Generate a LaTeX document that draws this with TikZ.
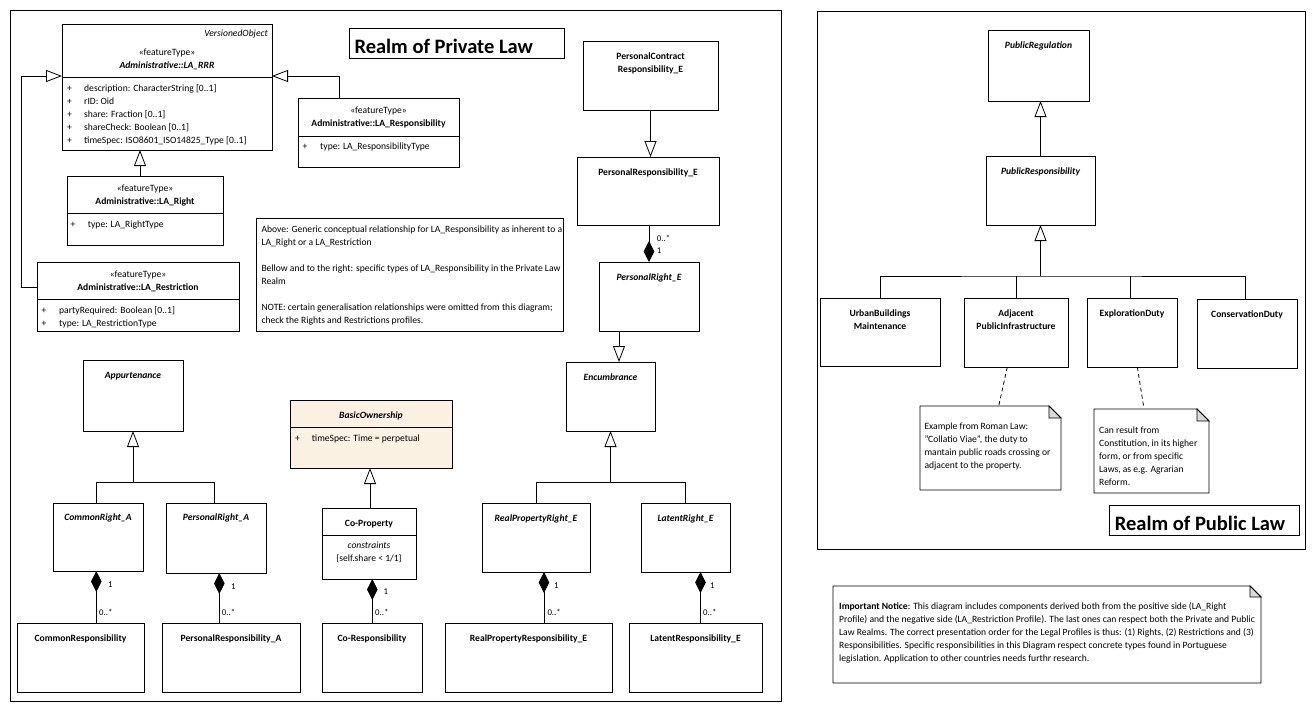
\documentclass[tikz,border=0pt]{standalone}
\usepackage{fontspec}
\setmainfont{Carlito}
\usetikzlibrary{arrows.meta}
\definecolor{ownfill}{RGB}{251,241,227}
\definecolor{foldgray}{RGB}{218,218,218}
\newcommand\foldnote[2]{%
  \draw[line width=0.8pt, fill=white] (#1.north west) -- ([xshift=-#2]#1.north east) -- ([yshift=-#2]#1.north east) -- (#1.south east) -- (#1.south west) -- cycle;
  \draw[line width=0.8pt, fill=foldgray] ([xshift=-#2]#1.north east) -- ([xshift=-#2,yshift=-#2]#1.north east) -- ([yshift=-#2]#1.north east) -- cycle;}
\begin{document}
\begin{tikzpicture}[x=1pt,y=-1pt,
  box/.style={draw=black, line width=0.8pt, inner sep=0pt, outer sep=0pt, anchor=north west, fill=white},
  frame/.style={draw=black, line width=0.8pt, inner sep=0pt, outer sep=0pt, anchor=north west},
  ghost/.style={inner sep=0pt, outer sep=0pt, anchor=north west},
  sep/.style={line width=0.8pt},
  t/.style={inner sep=0pt, anchor=base, font=\fontsize{9.6}{13}\selectfont},
  tl/.style={t, anchor=base west, align=left},
  tr/.style={t, anchor=base east},
  nm/.style={t, align=center, font=\fontsize{9.6}{13}\selectfont\bfseries},
  nmi/.style={t, align=center, font=\fontsize{9.6}{13}\selectfont\bfseries\itshape},
  st/.style={t, align=center},
  title/.style={inner sep=0pt, anchor=base west, font=\fontsize{20.5}{24}\selectfont\bfseries},
  gen/.style={line width=0.8pt, -{Triangle[open, length=16pt, width=12pt]}},
  comp/.style={line width=0.8pt, {Diamond[length=21pt, width=10.6pt]}-},
  mult/.style={inner sep=0pt, anchor=base west, font=\fontsize{8.8}{10}\selectfont},
  dep/.style={line width=0.8pt, dash pattern=on 4pt off 3pt}
]
\fill[white] (0,0) rectangle (1316,712);
\useasboundingbox (0,0) rectangle (1316,712);

% frames
\node[frame, minimum width=771pt, minimum height=691pt] (privframe) at (10,10) {};
\node[frame, minimum width=488pt, minimum height=538pt] (pubframe) at (817,11) {};

% titles
\node[box, minimum width=215pt, minimum height=30pt] (title1box) at (349,28) {};
\node[title] (title1) at (354.3,53.3) {Realm of Private Law};
\node[box, minimum width=190pt, minimum height=30pt] (title2box) at (1109,505) {};
\node[title] (title2) at (1114.7,530) {Realm of Public Law};

% LA_RRR
\node[box, minimum width=210pt, minimum height=126pt] (rrr) at (62,24) {};
\draw[sep] ([yshift=-53pt]rrr.north west) -- ([yshift=-53pt]rrr.north east);
\node[tr, font=\fontsize{9.6}{13}\selectfont\itshape] (rrrV) at (268,36.5) {VersionedObject};
\node[st] (rrrS) at ([yshift=-31.7pt]rrr.north) {«featureType»};
\node[nmi] (rrrN) at ([yshift=-44.7pt]rrr.north) {Administrative::LA\_RRR};
\node[tl] (rrrP) at (66.8,143) {+\\+\\+\\+\\+};
\node[tl] (rrrA) at (84,143) {description: CharacterString [0..1]\\rID: Oid\\share: Fraction [0..1]\\shareCheck: Boolean [0..1]\\timeSpec: ISO8601\_ISO14825\_Type [0..1]};

% LA_Responsibility
\node[box, minimum width=161pt, minimum height=69pt] (resp) at (298,98) {};
\draw[sep] ([yshift=-38pt]resp.north west) -- ([yshift=-38pt]resp.north east);
\node[st] (respS) at ([yshift=-15.4pt]resp.north) {«featureType»};
\node[nm] (respN) at ([yshift=-28.4pt]resp.north) {Administrative::LA\_Responsibility};
\node[tl] (respP) at (302.5,149) {+};
\node[tl] (respA) at (320,149) {type: LA\_ResponsibilityType};

% LA_Right
\node[box, minimum width=156pt, minimum height=69pt] (right) at (67,176) {};
\draw[sep] ([yshift=-37pt]right.north west) -- ([yshift=-37pt]right.north east);
\node[st] (rightS) at ([yshift=-15.4pt]right.north) {«featureType»};
\node[nm] (rightN) at ([yshift=-28.4pt]right.north) {Administrative::LA\_Right};
\node[tl] (rightP) at (70.5,227) {+};
\node[tl] (rightA) at (87.7,227) {type: LA\_RightType};

% LA_Restriction
\node[box, minimum width=202pt, minimum height=69pt] (restr) at (37,262) {};
\draw[sep] ([yshift=-37pt]restr.north west) -- ([yshift=-37pt]restr.north east);
\node[st] (restrS) at ([yshift=-15.4pt]restr.north) {«featureType»};
\node[nm] (restrN) at ([yshift=-28.4pt]restr.north) {Administrative::LA\_Restriction};
\node[tl] (restrP) at (41.5,326) {+\\+};
\node[tl] (restrA) at (59,326) {partyRequired: Boolean [0..1]\\type: LA\_RestrictionType};

% note (Above ...)
\node[box, minimum width=307pt, minimum height=113pt] (noteA) at (256,218) {};
\node[tl] (noteAT) at (261.3,323.7) {Above: Generic conceptual relationship for LA\_Responsibility as inherent to a\\LA\_Right or a LA\_Restriction\\[13pt]Bellow and to the right: specific types of LA\_Responsibility in the Private Law\\Realm\\[13pt]NOTE: certain generalisation relationships were omitted from this diagram;\\check the Rights and Restrictions profiles.};

% Encumbrance branch
\node[box, minimum width=135pt, minimum height=69pt] (pcr) at (583,41) {};
\node[nm] (pcrN) at ([yshift=-31.4pt]pcr.north) {PersonalContract\\Responsibility\_E};
\node[box, minimum width=142pt, minimum height=68pt] (pre) at (577,157) {};
\node[nm] (preN) at ([yshift=-18.7pt]pre.north) {PersonalResponsibility\_E};
\node[box, minimum width=100pt, minimum height=69pt] (prE) at (599,262) {};
\node[nmi] (prEN) at ([yshift=-18.7pt]prE.north) {PersonalRight\_E};
\node[box, minimum width=89pt, minimum height=69pt] (enc) at (566,362) {};
\node[nmi] (encN) at ([yshift=-18.7pt]enc.north) {Encumbrance};
\node[box, minimum width=108pt, minimum height=69pt] (rpr) at (482,503) {};
\node[nmi] (rprN) at ([yshift=-18.3pt]rpr.north) {RealPropertyRight\_E};
\node[box, minimum width=89pt, minimum height=69pt] (lat) at (641,503) {};
\node[nmi] (latN) at ([yshift=-18.3pt]lat.north) {LatentRight\_E};
\node[box, minimum width=167pt, minimum height=69pt] (rpresp) at (445,623) {};
\node[nm] (rprespN) at ([yshift=-18.7pt]rpresp.north) {RealPropertyResponsibility\_E};
\node[box, minimum width=133pt, minimum height=69pt] (latresp) at (629,623) {};
\node[nm] (latrespN) at ([yshift=-18.7pt]latresp.north) {LatentResponsibility\_E};

% Appurtenance branch
\node[box, minimum width=100pt, minimum height=71pt] (app) at (83,360) {};
\node[nmi] (appN) at ([yshift=-18.7pt]app.north) {Appurtenance};
\node[box, minimum width=90pt, minimum height=68pt] (cra) at (53,503) {};
\node[nmi] (craN) at ([yshift=-17.7pt]cra.north) {CommonRight\_A};
\node[box, minimum width=100pt, minimum height=70pt] (pra) at (166,503) {};
\node[nmi] (praN) at ([yshift=-17.7pt]pra.north) {PersonalRight\_A};
\node[box, minimum width=127pt, minimum height=69pt] (crsp) at (17,623) {};
\node[nm] (crspN) at ([yshift=-18.7pt]crsp.north) {CommonResponsibility};
\node[box, minimum width=138pt, minimum height=69pt] (prspa) at (162,623) {};
\node[nm] (prspaN) at ([yshift=-18.7pt]prspa.north) {PersonalResponsibility\_A};

% BasicOwnership branch
\node[box, fill=ownfill, minimum width=162pt, minimum height=68pt] (bo) at (290,400) {};
\draw[sep] ([yshift=-27pt]bo.north west) -- ([yshift=-27pt]bo.north east);
\node[nmi] (boN) at ([yshift=-18.7pt]bo.north) {BasicOwnership};
\node[tl] (boP) at (295,441) {+};
\node[tl] (boA) at (311.7,441) {timeSpec: Time = perpetual};
\node[box, minimum width=94pt, minimum height=71pt] (cop) at (322,508) {};
\draw[sep] ([yshift=-27pt]cop.north west) -- ([yshift=-27pt]cop.north east);
\node[nm] (copN) at ([yshift=-18.7pt]cop.north) {Co-Property};
\node[st, font=\fontsize{9.6}{13}\selectfont\itshape] (copC) at ([yshift=-40.7pt]cop.north) {constraints};
\node[st] (copK) at ([yshift=-53.7pt]cop.north) {\{self.share < 1/1\}};
\node[box, minimum width=100pt, minimum height=69pt] (cores) at (322,623) {};
\node[nm] (coresN) at ([yshift=-18.7pt]cores.north) {Co-Responsibility};

% Public law
\node[box, minimum width=101pt, minimum height=71pt] (preg) at (988,30) {};
\node[nmi] (pregN) at ([yshift=-18.4pt]preg.north) {PublicRegulation};
\node[box, minimum width=109pt, minimum height=69pt] (presp) at (986,156) {};
\node[nmi] (prespN) at ([yshift=-18.4pt]presp.north) {PublicResponsibility};
\node[box, minimum width=120pt, minimum height=68pt] (ubm) at (820,298) {};
\node[nm] (ubmN) at ([yshift=-31.4pt]ubm.north) {UrbanBuildings\\Maintenance};
\node[box, minimum width=104pt, minimum height=69pt] (api) at (964,298) {};
\node[nm] (apiN) at ([yshift=-31.4pt]api.north) {Adjacent\\PublicInfrastructure};
\node[box, minimum width=90pt, minimum height=69pt] (exp) at (1087,298) {};
\node[nm] (expN) at ([yshift=-18.4pt]exp.north) {ExplorationDuty};
\node[box, minimum width=100pt, minimum height=69pt] (cons) at (1197,299) {};
\node[nm] (consN) at ([yshift=-18.7pt]cons.north) {ConservationDuty};

% notes with folded corner
\node[ghost, minimum width=141pt, minimum height=84pt] (noteR) at (920,406) {};
\foldnote{noteR}{12pt}
\node[tl] (noteRT) at (924.3,468.7) {Example from Roman Law:\\"Collatio Viae", the duty to\\mantain public roads crossing or\\adjacent to the property.};
\node[ghost, minimum width=115pt, minimum height=84pt] (noteE) at (1094,409) {};
\foldnote{noteE}{12pt}
\node[tl] (noteET) at (1099,485) {Can result from\\Constitution, in its higher\\form, or from specific\\Laws, as e.g. Agrarian\\Reform.};
\node[ghost, minimum width=428pt, minimum height=97pt] (notice) at (833,586) {};
\foldnote{notice}{11pt}
\node[tl] (noticeT) at (839,661) {\textbf{Important Notice}: This diagram includes components derived both from the positive side (LA\_Right\\Profile) and the negative side (LA\_Restriction Profile). The last ones can respect both the Private and Public\\Law Realms. The correct presentation order for the Legal Profiles is thus: (1) Rights, (2) Restrictions and (3)\\Responsibilities. Specific responsibilities in this Diagram respect concrete types found in Portuguese\\legislation. Application to other countries needs furthr research.};

% ---------- connectors ----------
% generalisations to LA_RRR
\draw[gen] ([xshift=-39pt]resp.north) |- ([yshift=11pt]rrr.east);
\draw[gen] ([xshift=-5pt]right.north) -- ([xshift=-5pt]right.north |- rrr.south);
\draw[gen] ([yshift=9pt]restr.west) -- ++(-16,0) |- ([yshift=11pt]rrr.west);

% encumbrance branch
\draw[gen] (pcr.south) -- (pcr.south |- pre.north);
\draw[comp] (prE.north) -- (prE.north |- pre.south);
\node[mult] (m1a) at (656.7,241) {0..*};
\node[mult] (m1b) at (656.7,253.7) {1};
\draw[gen] ([xshift=-30pt]prE.south) -- ([xshift=-30pt]prE.south |- enc.north);
\coordinate (encj) at ([yshift=-51.3pt]enc.south);
\draw[gen] (encj) -- (enc.south);
\draw[line width=0.8pt] (rpr.north) |- (encj) -| (lat.north);
\draw[comp] ([xshift=8pt]rpr.south) -- ([xshift=8pt]rpr.south |- rpresp.north);
\node[mult] (m2a) at (554,588) {1};
\node[mult] (m2b) at (547.3,615.7) {0..*};
\draw[comp] ([xshift=15pt]lat.south) -- ([xshift=15pt]lat.south |- latresp.north);
\node[mult] (m3a) at (710,588) {1};
\node[mult] (m3b) at (703,615.7) {0..*};

% appurtenance branch
\coordinate (appj) at ([yshift=-51.3pt]app.south);
\draw[gen] (appj) -- (app.south);
\draw[line width=0.8pt] ([xshift=-1.7pt]cra.north) |- (appj) -| ([xshift=-1.7pt]pra.north);
\draw[comp] ([xshift=-1.7pt]cra.south) -- ([xshift=-1.7pt]cra.south |- crsp.north);
\node[mult] (m4a) at (108,587) {1};
\node[mult] (m4b) at (99,615.7) {0..*};
\draw[comp] ([xshift=3.3pt]pra.south) -- ([xshift=3.3pt]pra.south |- prspa.north);
\node[mult] (m5a) at (231,589) {1};
\node[mult] (m5b) at (221.7,615.7) {0..*};

% basic ownership
\draw[gen] ([xshift=1pt]cop.north) -- ([xshift=1pt]cop.north |- bo.south);
\draw[comp] ([xshift=3.3pt]cop.south) -- ([xshift=3.3pt]cop.south |- cores.north);
\node[mult] (m6a) at (383.5,594.7) {1};
\node[mult] (m6b) at (375,615.7) {0..*};

% public law
\draw[gen] (presp.north) -- (presp.north |- preg.south);
\coordinate (pubj) at ([yshift=-51pt]presp.south);
\draw[gen] (pubj) -- (presp.south);
\draw[line width=0.8pt] (ubm.north) |- (pubj) -| ([xshift=-1.7pt]cons.north);
\draw[line width=0.8pt] (api.north) -- (api.north |- pubj);
\draw[line width=0.8pt] ([xshift=-1.7pt]exp.north) -- ([xshift=-1.7pt]exp.north |- pubj);
\draw[dep] ([xshift=-8.7pt]api.south) -- ([xshift=8.2pt]noteR.north);
\draw[dep] ([xshift=5.3pt]exp.south) -- ([xshift=-7.8pt,yshift=2pt]noteE.north);
\end{tikzpicture}
\end{document}
